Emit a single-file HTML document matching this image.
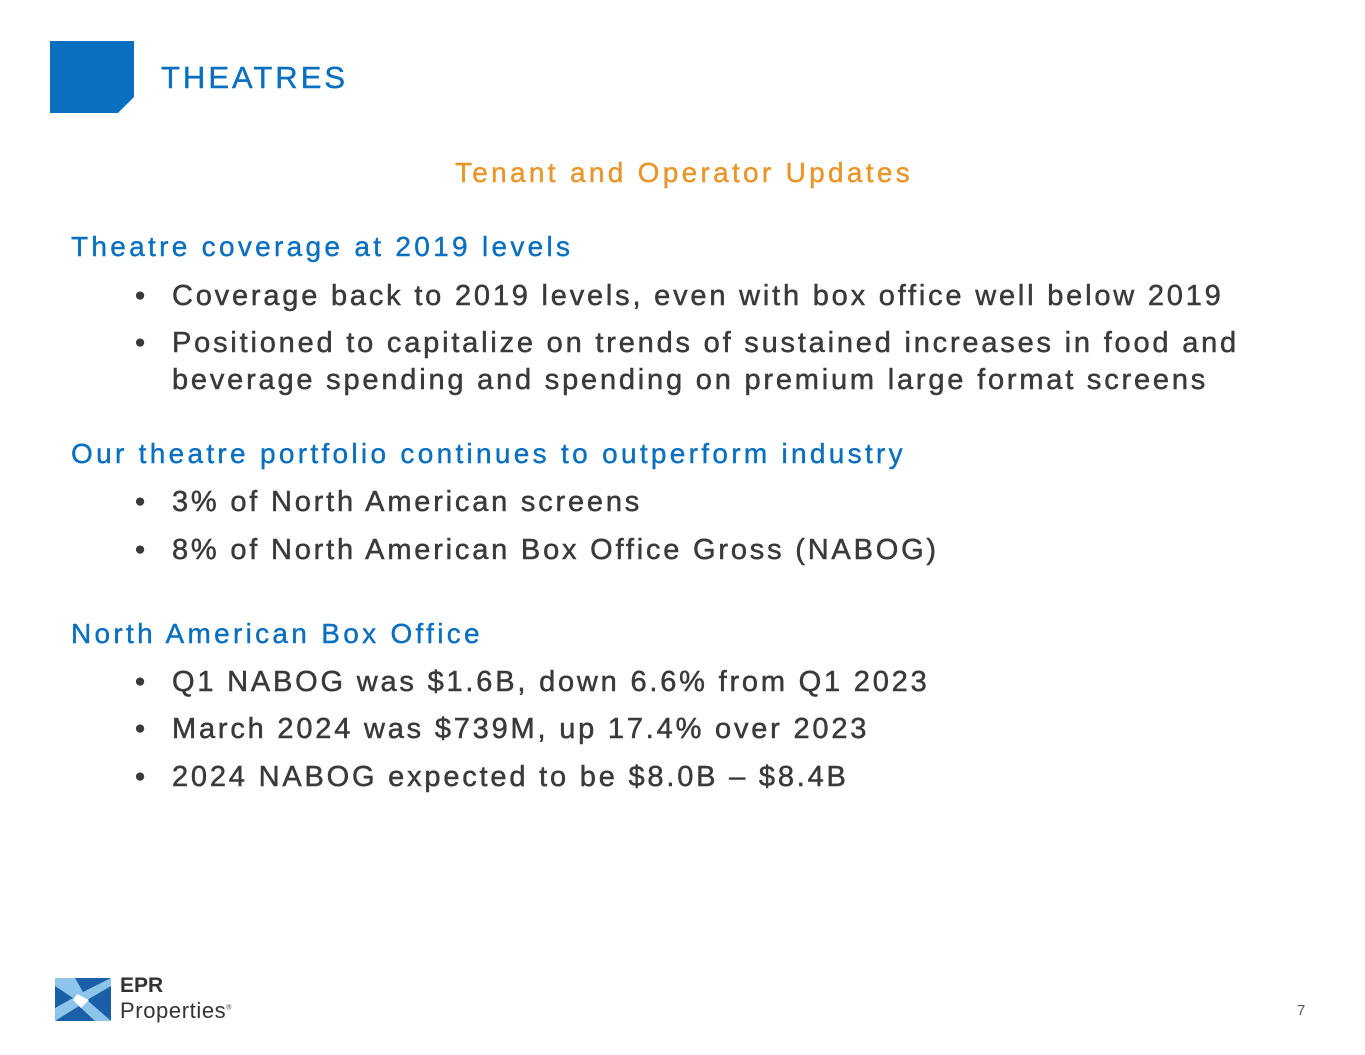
<!DOCTYPE html>
<html><head><meta charset="utf-8"><style>
body{margin:0;width:1365px;height:1055px;background:#fff;position:relative;overflow:hidden;font-family:"Liberation Sans",sans-serif}
.a{position:absolute;white-space:nowrap}
.h{color:#0a6fbf;font-size:28px;letter-spacing:3.3px;-webkit-text-stroke:0.4px #0a6fbf}
.b{color:#3a3a3a;font-size:29px;letter-spacing:2.8px;-webkit-text-stroke:0.5px #3a3a3a}
.dot{position:absolute;left:-37px;letter-spacing:0}
</style></head><body>
<svg class="a" style="left:50px;top:41px" width="85" height="73"><polygon points="0,0 84,0 84,56 68,72 0,72" fill="#0a6fbf"/></svg>
<div class="a" style="left:161px;top:60px;color:#0a6fbf;font-size:31px;letter-spacing:3px;-webkit-text-stroke:0.4px #0a6fbf">THEATRES</div>
<div class="a" style="left:455px;top:157px;color:#e8962a;font-size:28px;letter-spacing:3.3px;-webkit-text-stroke:0.4px #e8962a">Tenant and Operator Updates</div>

<div class="a h" style="left:71px;top:231px">Theatre coverage at 2019 levels</div>
<div class="a b" style="left:172px;top:280px"><span class="dot">•</span>Coverage back to 2019 levels, even with box office well below 2019</div>
<div class="a b" style="left:172px;top:327px"><span class="dot">•</span>Positioned to capitalize on trends of sustained increases in food and</div>
<div class="a b" style="left:172px;top:364px">beverage spending and spending on premium large format screens</div>

<div class="a h" style="left:71px;top:438px">Our theatre portfolio continues to outperform industry</div>
<div class="a b" style="left:172px;top:486px"><span class="dot">•</span>3% of North American screens</div>
<div class="a b" style="left:172px;top:534px"><span class="dot">•</span>8% of North American Box Office Gross (NABOG)</div>

<div class="a h" style="left:71px;top:618px">North American Box Office</div>
<div class="a b" style="left:172px;top:666px"><span class="dot">•</span>Q1 NABOG was $1.6B, down 6.6% from Q1 2023</div>
<div class="a b" style="left:172px;top:713px"><span class="dot">•</span>March 2024 was $739M, up 17.4% over 2023</div>
<div class="a b" style="left:172px;top:761px"><span class="dot">•</span>2024 NABOG expected to be $8.0B – $8.4B</div>

<svg class="a" style="left:55px;top:978px" width="56" height="43">
<rect width="56" height="43" rx="2" fill="#1b5fa8"/>
<polygon points="0,0 20,0 28,14 56,0 56,8 32,22 56,43 40,43 24,28 0,43 0,30 18,20 0,8" fill="#8cc4ea"/>
<polygon points="22,16 34,22 26,30 18,22" fill="#fff"/>
</svg>
<div class="a" style="left:120px;top:974px;font-size:21px;font-weight:bold;color:#333">EPR</div>
<div class="a" style="left:120px;top:998px;font-size:22px;letter-spacing:0.6px;color:#333">Properties<sup style="font-size:7px">®</sup></div>
<div class="a" style="left:1297px;top:1002px;font-size:15px;color:#555">7</div>
</body></html>
